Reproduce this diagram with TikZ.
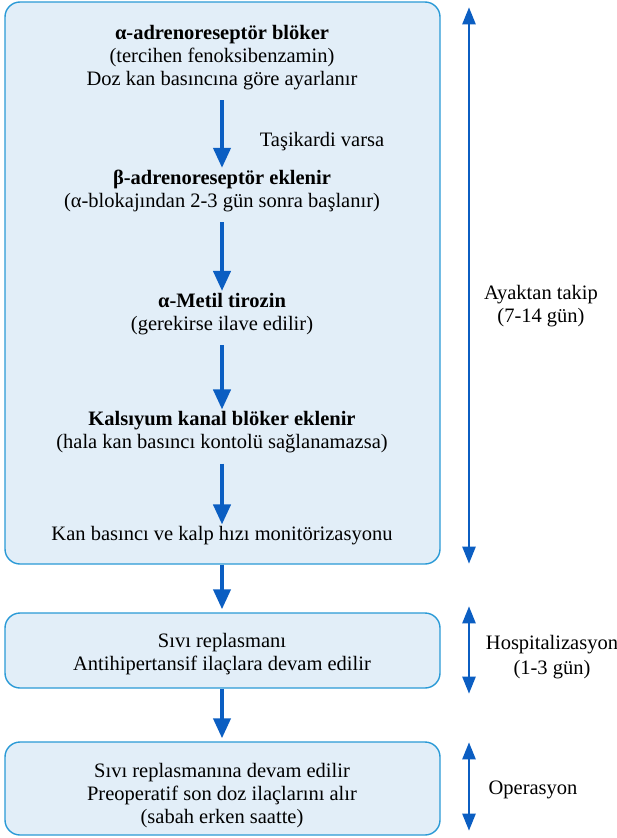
\documentclass[tikz,border=0pt]{standalone}
\usepackage{fontspec}
\setmainfont{Liberation Serif}
\usetikzlibrary{arrows.meta}
\definecolor{boxfill}{HTML}{E2EEF8}
\definecolor{boxline}{HTML}{2A9AD6}
\definecolor{arrowblue}{HTML}{0B5EC2}
\begin{document}
\begin{tikzpicture}[x=1pt,y=-1pt,
  panel/.style={draw=boxline, fill=boxfill, line width=1.4pt, rounded corners=15pt, inner sep=0pt},
  txt/.style={font=\fontsize{20.5}{23}\selectfont, align=center, inner sep=0pt},
  flow/.style={draw=arrowblue, line width=4pt, -{Triangle[width=17pt,length=20pt]}},
  span/.style={draw=arrowblue, line width=2.4pt, {Triangle[width=13pt,length=17pt]}-{Triangle[width=13pt,length=17pt]}}]
\useasboundingbox (0,0) rectangle (617,838);

% phase panels
\node[panel, minimum width=435pt, minimum height=562pt] (box1) at (222.5,283) {};
\node[panel, minimum width=435pt, minimum height=75pt] (box2) at (222.5,650.5) {};
\node[panel, minimum width=435pt, minimum height=93pt] (box3) at (222.5,788.5) {};

% outpatient steps
\node[txt] (s1) at (222,57.5) {\textbf{α-adrenoreseptör blöker}\\(tercihen fenoksibenzamin)\\Doz kan basıncına göre ayarlanır};
\node[txt] (s2) at (222,191) {\textbf{β-adrenoreseptör eklenir}\\(α-blokajından 2-3 gün sonra başlanır)};
\node[txt] (s3) at (222,314) {\textbf{α-Metil tirozin}\\(gerekirse ilave edilir)};
\node[txt] (s4) at (222,432.5) {\textbf{Kalsıyum kanal blöker eklenir}\\(hala kan basıncı kontolü sağlanamazsa)};
\node[txt] (s5) at (222,536) {Kan basıncı ve kalp hızı monitörizasyonu};
\node[txt] (cond) at (322,142) {Taşikardi varsa};

% hospital and operation steps
\node[txt] (h1) at (222,654) {Sıvı replasmanı\\Antihipertansif ilaçlara devam edilir};
\node[txt] (o1) at (222,796) {Sıvı replasmanına devam edilir\\Preoperatif son doz ilaçlarını alır\\(sabah erken saatte)};

% step arrows
\draw[flow] ([yshift=-10pt]s1.south) -- ([yshift=2pt]s2.north);
\draw[flow] ([yshift=-10pt]s2.south) -- ([yshift=2pt]s3.north);
\draw[flow] ([yshift=-10pt]s3.south) -- ([yshift=2pt]s4.north);
\draw[flow] ([yshift=-10pt]s4.south) -- ([yshift=2pt]s5.north);
\draw[flow] (box1.south -| s5) -- ([yshift=3pt]box2.north -| s5);
\draw[flow] (box2.south -| s5) -- ([yshift=3pt]box3.north -| s5);

% duration spans
\coordinate (ax) at (469,0);
\draw[span] ([yshift=-6pt]box1.north -| ax) -- ([yshift=1pt]box1.south -| ax);
\draw[span] ([yshift=6pt]box2.north -| ax) -- ([yshift=-5pt]box2.south -| ax);
\draw[span] ([yshift=-1pt]box3.north -| ax) -- ([yshift=5pt]box3.south -| ax);

\node[txt] (l1) at (541,306) {Ayaktan takip\\(7-14 gün)};
\node[txt, font=\fontsize{20.5}{25}\selectfont] (l2) at (552,657) {Hospitalizasyon\\(1-3 gün)};
\node[txt] (l3) at (533,790) {Operasyon};
\end{tikzpicture}
\end{document}
